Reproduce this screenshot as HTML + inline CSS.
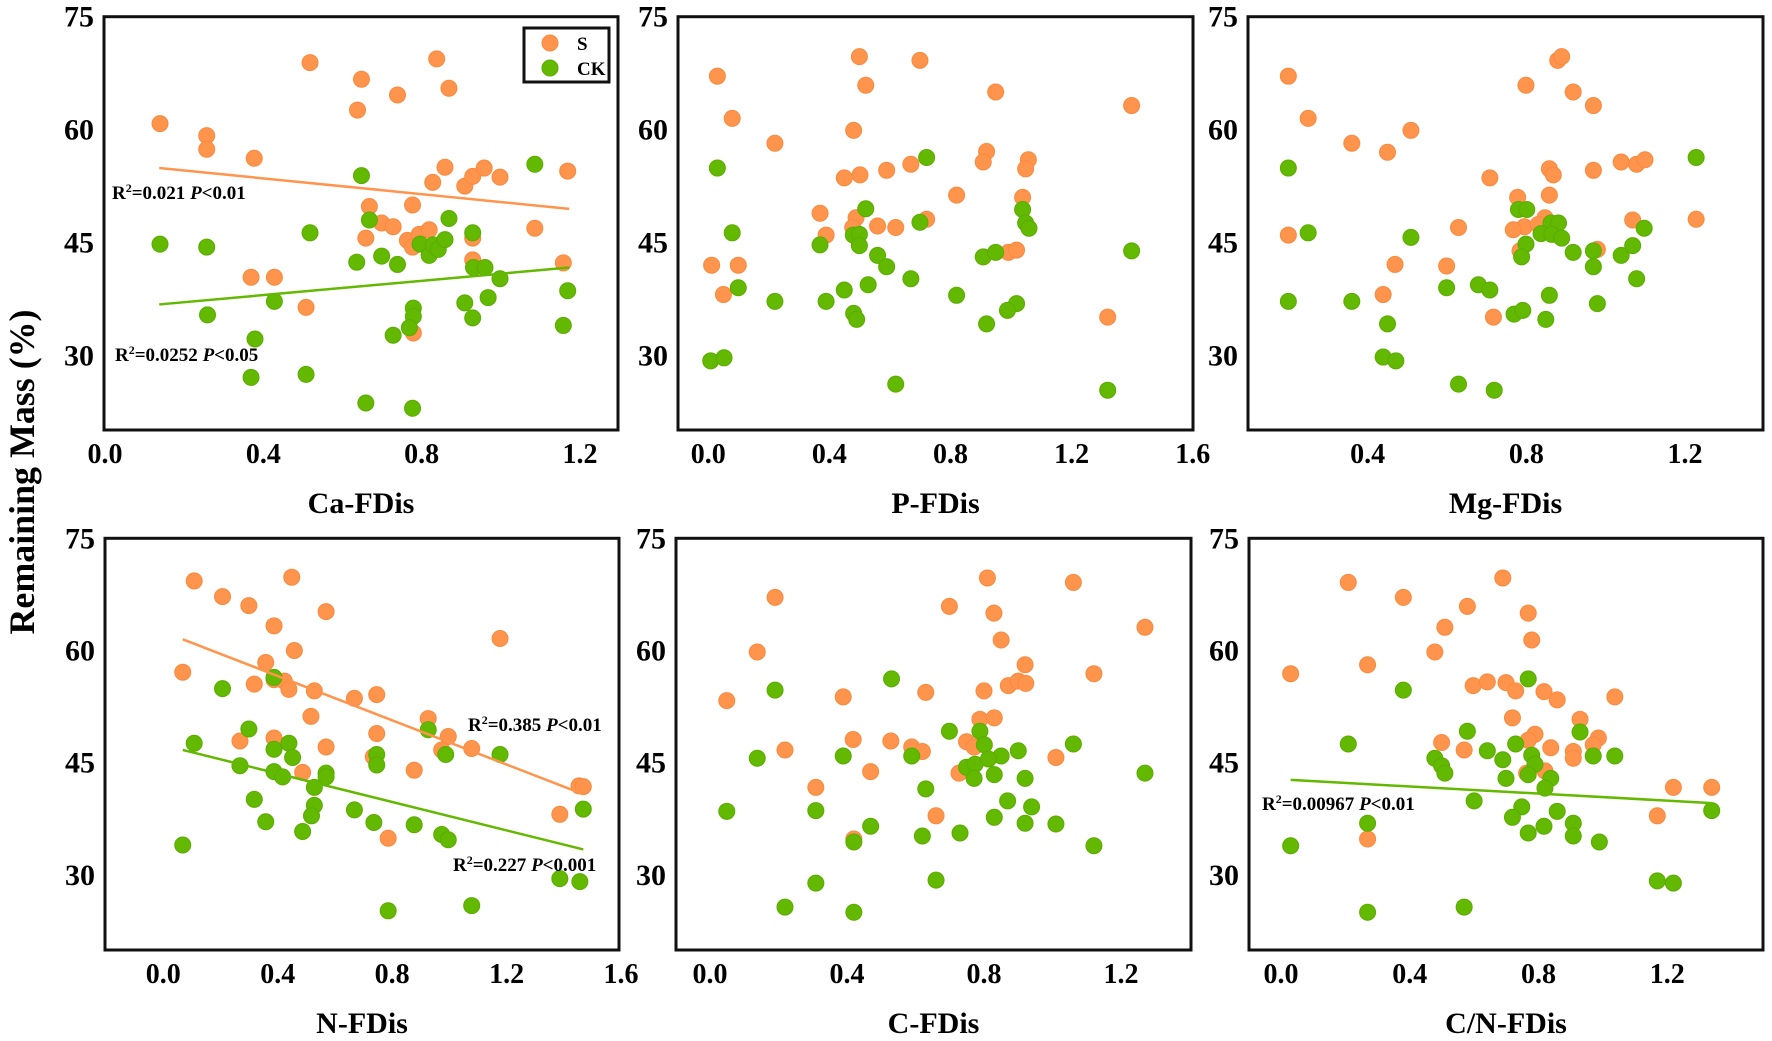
<!DOCTYPE html>
<html><head><meta charset="utf-8"><style>
html,body{margin:0;padding:0;background:#fff;}
svg{display:block;font-family:"Liberation Serif","Times New Roman",serif;font-weight:bold;}
</style></head><body>
<svg id="chart" xmlns="http://www.w3.org/2000/svg" width="1772" height="1041" viewBox="0 0 1772 1041">
<rect x="0" y="0" width="1772" height="1041" fill="#fff"/>
<text transform="translate(34,472) rotate(-90)" text-anchor="middle" font-size="36" textLength="325" lengthAdjust="spacingAndGlyphs">Remaining Mass (%)</text>
</svg>
<script>
// ---- data (x = FDis, y = remaining mass %) ----
const caSx=[0.139,0.257,0.257,0.377,0.518,0.648,0.739,0.638,0.838,0.869,0.859,0.828,0.909,0.929,0.958,0.998,1.169,0.668,0.777,0.699,0.728,0.659,0.764,0.777,0.794,0.819,1.086,0.929,0.929,1.158,0.369,0.428,0.508,0.779];
const caSy=[60.8,59.2,57.4,56.2,68.9,66.7,64.6,62.6,69.4,65.5,55.0,53.0,52.5,53.8,54.9,53.7,54.5,49.8,50.0,47.6,47.1,45.6,45.3,44.4,46.1,46.7,46.9,45.6,42.7,42.3,40.4,40.4,36.4,33.0];
const caCx=[0.139,0.257,0.518,0.648,0.668,0.869,0.929,1.086,0.636,0.699,0.739,0.796,0.819,0.829,0.842,0.859,0.931,0.960,0.998,1.169,0.909,0.968,0.929,1.158,0.259,0.428,0.379,0.779,0.779,0.769,0.728,0.369,0.508,0.659,0.777];
const caCy=[44.8,44.4,46.3,53.9,48.0,48.2,46.3,55.4,42.4,43.2,42.1,44.8,43.3,44.7,44.1,45.4,41.7,41.7,40.2,38.6,37.0,37.7,35.0,34.0,35.4,37.2,32.2,36.3,35.2,33.7,32.7,27.1,27.5,23.7,23.0];

const pSx=[0.030,0.079,0.220,0.011,0.099,0.050,0.499,0.699,0.520,0.949,1.398,0.480,0.919,0.908,1.057,1.048,0.449,0.501,0.589,0.669,0.820,1.038,0.369,0.488,0.477,0.559,0.619,0.721,0.389,0.991,1.018,1.319];
const pSy=[67.1,61.5,58.2,42.0,42.0,38.1,69.7,69.2,65.9,65.0,63.2,59.9,57.1,55.7,56.0,54.8,53.6,54.0,54.6,55.4,51.3,51.0,48.9,48.3,47.0,47.2,47.0,48.1,46.0,43.7,44.0,35.1];
const pCx=[0.030,0.079,0.099,0.220,0.008,0.052,0.721,0.520,0.699,1.038,1.048,1.059,0.369,0.479,0.499,0.499,0.559,0.589,0.669,0.528,0.449,0.389,0.480,0.490,0.820,0.908,0.949,1.018,0.988,0.919,1.398,0.619,1.319];
const pCy=[54.9,46.3,39.0,37.2,29.3,29.7,56.3,49.5,47.7,49.4,47.6,46.9,44.7,46.0,46.1,44.6,43.3,41.8,40.2,39.4,38.7,37.2,35.6,34.8,38.0,43.1,43.7,36.9,36.0,34.2,43.9,26.2,25.4];

const mgSx=[0.200,0.250,0.360,0.450,0.509,0.799,0.879,0.889,0.918,0.969,0.858,0.868,0.969,1.039,1.078,1.099,0.708,0.778,0.858,0.200,0.629,0.469,0.599,0.439,0.717,0.847,0.795,0.767,0.830,1.068,1.228,0.979,0.784];
const mgSy=[67.1,61.5,58.2,57.0,59.9,65.9,69.2,69.7,65.0,63.2,54.8,54.0,54.6,55.7,55.4,56.0,53.6,51.0,51.3,46.0,47.0,42.1,41.9,38.1,35.1,48.3,47.1,46.7,47.4,48.0,48.1,44.1,43.9];
const mgCx=[0.200,0.250,0.200,0.360,0.509,0.450,0.439,0.471,0.629,0.719,0.599,0.679,0.708,0.780,0.801,0.862,0.881,0.837,0.864,0.889,0.799,0.788,0.918,0.969,0.969,1.039,1.068,1.097,1.078,1.228,0.858,0.979,0.769,0.791,0.849];
const mgCy=[54.9,46.3,37.2,37.2,45.7,34.2,29.8,29.3,26.2,25.4,39.0,39.4,38.7,49.4,49.4,47.6,47.6,46.2,46.1,45.6,44.8,43.1,43.7,43.9,41.8,43.3,44.6,46.9,40.2,56.3,38.0,36.9,35.5,36.0,34.8];

const nSx=[0.108,0.207,0.299,0.449,0.569,0.387,0.458,1.177,0.068,0.358,0.318,0.387,0.423,0.439,0.528,0.668,0.746,0.516,0.926,0.746,0.996,0.268,0.387,0.569,0.973,1.078,0.734,0.487,0.877,1.453,1.468,1.386,0.786];
const nSy=[69.3,67.2,66.0,69.8,65.2,63.3,60.0,61.6,57.1,58.4,55.5,56.1,55.9,54.8,54.6,53.6,54.1,51.2,50.9,48.9,48.5,47.9,48.3,47.1,46.7,46.9,45.8,43.7,44.0,41.9,41.8,38.1,34.9];
const nCx=[0.108,0.207,0.299,0.387,0.387,0.439,0.452,0.268,0.387,0.417,0.528,0.569,0.569,0.528,0.518,0.318,0.358,0.487,0.668,0.736,0.877,0.973,0.996,0.926,0.987,0.746,0.746,1.177,1.468,0.068,1.386,1.456,0.786,1.078];
const nCy=[47.6,54.9,49.5,56.4,46.8,47.6,45.7,44.6,43.8,43.1,41.7,43.6,43.1,39.3,37.9,40.1,37.1,35.8,38.7,37.0,36.7,35.4,34.7,49.4,46.1,46.1,44.7,46.1,38.8,34.0,29.5,29.1,25.2,25.9];

const cSx=[0.190,0.138,0.049,0.389,0.630,0.699,0.810,0.829,0.850,1.061,1.270,0.920,1.121,0.871,0.900,0.922,0.800,0.788,0.830,0.418,0.528,0.589,0.620,0.219,0.749,0.771,0.469,0.727,0.309,1.010,0.660,0.420];
const cSy=[67.1,59.8,53.3,53.8,54.4,65.9,69.7,65.0,61.4,69.1,63.1,58.1,56.9,55.3,55.9,55.6,54.6,50.8,51.0,48.1,47.9,47.1,46.5,46.7,47.8,47.1,43.8,43.6,41.7,45.7,37.9,34.8];
const cCx=[0.190,0.530,0.049,0.138,0.389,0.589,0.699,0.788,0.801,0.850,0.900,1.061,1.270,0.749,0.774,0.813,0.771,0.830,0.920,0.630,0.869,0.939,0.309,0.469,0.620,0.730,0.830,0.920,1.010,1.121,0.420,0.309,0.660,0.219,0.420];
const cCy=[54.7,56.2,38.5,45.6,45.9,45.9,49.2,49.2,47.4,45.9,46.6,47.5,43.6,44.4,44.8,45.5,42.9,43.4,42.9,41.5,39.9,39.1,38.6,36.5,35.2,35.6,37.7,36.9,36.8,33.9,34.4,28.9,29.3,25.7,25.0];

const cnSx=[0.209,0.380,0.579,0.689,0.768,0.509,0.779,0.478,0.269,0.030,0.597,0.641,0.699,0.729,0.817,0.858,1.037,0.719,0.929,0.789,0.768,0.499,0.569,0.838,0.908,0.908,0.986,0.970,0.820,0.763,1.219,1.338,1.169,0.269];
const cnSy=[69.1,67.1,65.9,69.7,65.0,63.1,61.4,59.8,58.1,56.9,55.3,55.8,55.7,54.6,54.5,53.4,53.8,51.0,50.8,48.8,48.0,47.7,46.7,47.0,46.5,45.6,48.3,47.4,43.9,43.6,41.7,41.7,37.9,34.8];
const cnCx=[0.380,0.209,0.768,0.579,0.929,0.729,0.641,0.478,0.499,0.509,0.689,0.779,0.789,0.768,0.699,0.838,0.820,0.970,1.037,1.338,0.600,0.748,0.719,0.858,0.817,0.768,0.908,0.908,0.989,0.269,0.030,1.169,1.219,0.269,0.569];
const cnCy=[54.7,47.5,56.2,49.2,49.1,47.5,46.6,45.6,44.6,43.6,45.4,46.0,44.8,43.4,42.9,42.9,41.6,45.9,45.9,38.6,39.9,39.1,37.7,38.5,36.5,35.6,36.9,35.2,34.4,36.9,33.9,29.2,28.9,25.0,25.7];

// fitted regression lines: [intercept, slope, xStart, xEnd]
const caFitS=[55.62,-5.23,0.137,1.173];
const caFitC=[36.14,4.73,0.137,1.173];
const nFitS=[62.5,-14.79,0.068,1.468];
const nFitC=[47.35,-9.5,0.068,1.468];
const cnFitC=[42.77,-2.37,0.030,1.338];

const yTicks=[30,45,60,75];
const ticksCa=["0.0","0.4","0.8","1.2"];
const ticksP=["0.0","0.4","0.8","1.2","1.6"];
const ticksMg=["0.4","0.8","1.2"];
const ticksN=["0.0","0.4","0.8","1.2","1.6"];
const ticksC=["0.0","0.4","0.8","1.2"];
const ticksCN=["0.0","0.4","0.8","1.2"];

const NS="http://www.w3.org/2000/svg";
const svg=document.getElementById('chart');
const ORANGE="#FF944D", ORANGE_E="#F98A3E", GREEN="#63B800", GREEN_E="#5AAD00";
function mk(tag,attrs,parent){const e=document.createElementNS(NS,tag);for(const k in attrs)e.setAttribute(k,attrs[k]);(parent||svg).appendChild(e);return e;}

const layout=[
 {key:'ca',title:'Ca-FDis',L:104,R:618,T:16.7,B:430,x0:105,kx:395.8,y75:16.7,ky:7.53,sx:caSx,sy:caSy,cx:caCx,cy:caCy,ticks:ticksCa,fits:[[caFitS,ORANGE],[caFitC,GREEN]]},
 {key:'p',title:'P-FDis',L:678,R:1193,T:16.7,B:430,x0:708.3,kx:302.8,y75:16.7,ky:7.53,sx:pSx,sy:pSy,cx:pCx,cy:pCy,ticks:ticksP,fits:[]},
 {key:'mg',title:'Mg-FDis',L:1248,R:1763,T:16.7,B:430,x0:1209,kx:396.7,y75:16.7,ky:7.53,sx:mgSx,sy:mgSy,cx:mgCx,cy:mgCy,ticks:ticksMg,fits:[]},
 {key:'n',title:'N-FDis',L:105,R:619,T:538.3,B:950,x0:163.3,kx:286.1,y75:538.3,ky:7.48,sx:nSx,sy:nSy,cx:nCx,cy:nCy,ticks:ticksN,fits:[[nFitS,ORANGE],[nFitC,GREEN]]},
 {key:'c',title:'C-FDis',L:676,R:1191,T:538.3,B:950,x0:710,kx:342.5,y75:538.3,ky:7.48,sx:cSx,sy:cSy,cx:cCx,cy:cCy,ticks:ticksC,fits:[]},
 {key:'cn',title:'C/N-FDis',L:1249,R:1763,T:538.3,B:950,x0:1281,kx:321.9,y75:538.3,ky:7.48,sx:cnSx,sy:cnSy,cx:cnCx,cy:cnCy,ticks:ticksCN,fits:[[cnFitC,GREEN]]}
];

layout.forEach(p=>{
 const X=v=>p.x0+v*p.kx, Y=v=>p.y75+(75-v)*p.ky;
 const g=mk('g',{});
 
 
 yTicks.forEach(t=>{
  const tx=mk('text',{x:p.L-10,y:Y(t)+10,'text-anchor':'end','font-size':30},g);
  tx.textContent=t;
  
  
 });
 p.ticks.forEach(t=>{
  const tx=mk('text',{x:X(parseFloat(t)),y:p.B+33,'text-anchor':'middle','font-size':28},g);
  tx.textContent=t;
  
  
 });
 const ttl=mk('text',{x:(p.L+p.R)/2,y:p.B+83,'text-anchor':'middle','font-size':30},g);
 ttl.textContent=p.title;
 
 
 p.sx.forEach((v,i)=>{
  const c=mk('circle',{cx:X(v),cy:Y(p.sy[i]),r:8,fill:ORANGE,stroke:ORANGE_E,'stroke-width':1},g);
  
  
 });
 p.cx.forEach((v,i)=>{
  const c=mk('circle',{cx:X(v),cy:Y(p.cy[i]),r:8,fill:GREEN,stroke:GREEN_E,'stroke-width':1},g);
  
  
 });
 p.fits.forEach(([f,col])=>{
  const l=mk('line',{x1:X(f[2]),y1:Y(f[0]+f[1]*f[2]),x2:X(f[3]),y2:Y(f[0]+f[1]*f[3]),stroke:col,'stroke-width':2.5},g);
  
  
 });
 const fr=mk('rect',{x:p.L,y:p.T,width:p.R-p.L,height:p.B-p.T,fill:'none',stroke:'#111','stroke-width':3},g);
 
 
});

function annot(x,y,r2,pv,name){
 const t=mk('text',{x:x,y:y,'font-size':19});
 
 
 t.innerHTML='R<tspan dy="-7" font-size="12">2</tspan><tspan dy="7">='+r2+' </tspan><tspan font-style="italic">P</tspan>&lt;'+pv;
}
annot(112,199,'0.021','0.01','ca-s-fit-label');
annot(115,361,'0.0252','0.05','ca-ck-fit-label');
annot(468,731,'0.385','0.01','n-s-fit-label');
annot(453,871,'0.227','0.001','n-ck-fit-label');
annot(1262,810,'0.00967','0.01','cn-ck-fit-label');

const lg=mk('g',{});


mk('rect',{x:524,y:28,width:85,height:54,fill:'#fff',stroke:'#111','stroke-width':3},lg);
const l1=mk('circle',{cx:550,cy:43,r:8,fill:ORANGE,stroke:ORANGE_E},lg);


const l2=mk('circle',{cx:550,cy:68,r:8,fill:GREEN,stroke:GREEN_E},lg);


const t1=mk('text',{x:577,y:50,'font-size':19},lg);t1.textContent='S';


const t2=mk('text',{x:577,y:75,'font-size':19},lg);t2.textContent='CK';


</script>
</body></html>
